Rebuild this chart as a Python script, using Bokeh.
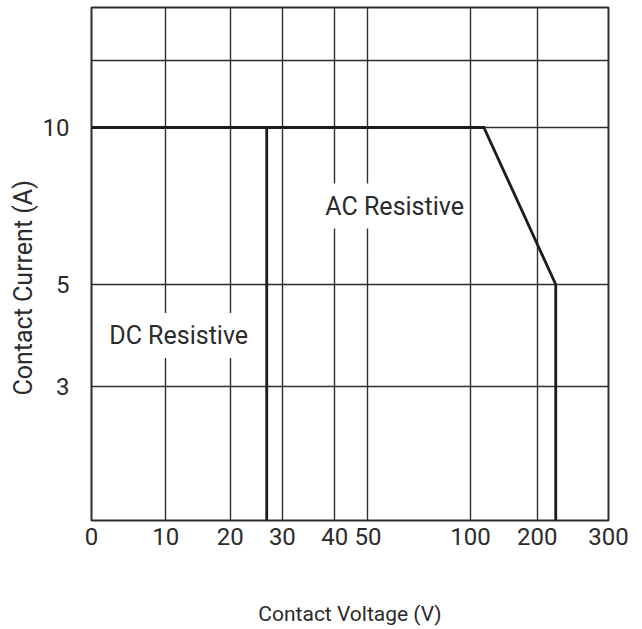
import numpy as np
from bokeh.plotting import figure
from bokeh.models import FixedTicker, Label, Range1d, Title
from bokeh.embed import file_html
from bokeh.resources import INLINE

# ---------------- data ----------------
x_tick_values = [0, 10, 20, 30, 40, 50, 100, 200, 300]
x_tick_labels = ["0", "10", "20", "30", "40", "50", "100", "200", "300"]
y_tick_values = [3, 5, 10]
y_tick_labels = ["3", "5", "10"]
y_unlabeled_grid = [15]
y_floor = 2
y_ceiling = 20

dc_voltage = [0, 27, 27]
dc_current = [10, 10, y_floor]
ac_voltage = [0, 120, 226, 226]
ac_current = [10, 10, 5, y_floor]

dc_label_at = (12, 4)
ac_label_at = (63, 7.5)

# ------------- axis warp (non-uniform scale of the original chart) -------------
x_warp_values = [0, 10, 20, 30, 40, 50, 100, 200, 300]
x_warp_frac = [0.0, 0.1437, 0.2683, 0.3692, 0.4706, 0.5348, 0.7331, 0.8621, 1.0]
y_warp_values = [2, 3, 5, 10, 15, 20]
y_warp_frac = [0.0, 0.2612, 0.4600, 0.7661, 0.8961, 1.0]


def wx(v):
    return np.round(np.interp(np.asarray(v, dtype=float), x_warp_values, x_warp_frac), 6)


def wy(v):
    return np.round(np.interp(np.asarray(v, dtype=float), y_warp_values, y_warp_frac), 6)


FONT = "Roboto"
TEXT_COLOR = "#2b2b2b"
GRID_COLOR = "#2e2e2e"
LINE_COLOR = "#1c1c1c"

p = figure(
    width=636, height=628,
    output_backend="svg", toolbar_location=None,
    x_range=Range1d(float(wx(0)), float(wx(300))),
    y_range=Range1d(float(wy(y_floor)), float(wy(y_ceiling))),
    min_border_left=91, min_border_right=28, min_border_top=7, min_border_bottom=108,
)
p.background_fill_color = "white"
p.border_fill_color = "white"
p.outline_line_color = GRID_COLOR
p.outline_line_width = 2

xt = [float(t) for t in wx(x_tick_values)]
yt = [float(t) for t in wy(y_tick_values)]
ygrid_ticks = [float(t) for t in wy(y_tick_values + y_unlabeled_grid)]

p.xaxis.ticker = FixedTicker(ticks=xt)
p.xaxis.major_label_overrides = {t: lab for t, lab in zip(xt, x_tick_labels)}
p.yaxis.ticker = FixedTicker(ticks=yt)
p.yaxis.major_label_overrides = {t: lab for t, lab in zip(yt, y_tick_labels)}

p.xgrid.ticker = FixedTicker(ticks=xt)
p.ygrid.ticker = FixedTicker(ticks=ygrid_ticks)
for g in (p.xgrid, p.ygrid):
    g.grid_line_color = GRID_COLOR
    g.grid_line_width = 1.4

for ax in (p.xaxis, p.yaxis):
    ax.axis_line_color = None
    ax.major_tick_line_color = None
    ax.minor_tick_line_color = None
    ax.major_tick_out = 0
    ax.major_tick_in = 0
    ax.major_label_text_font = FONT
    ax.major_label_text_font_size = "24px"
    ax.major_label_text_color = TEXT_COLOR
    ax.axis_label_text_font = FONT
    ax.axis_label_text_font_size = "21px"
    ax.axis_label_text_color = TEXT_COLOR
    ax.axis_label_text_font_style = "normal"

p.xaxis.axis_label = "Contact Voltage (V)"
p.xaxis.major_label_standoff = 7
p.xaxis.axis_label_standoff = 54
p.yaxis.major_label_standoff = 22

# y-axis title (sits slightly below the frame centre, as in the original)
p.add_layout(Title(
    text="Contact Current (A)", align="left", offset=125, standoff=4,
    text_font=FONT, text_font_size="25px", text_color=TEXT_COLOR,
    text_font_style="normal",
), "left")

p.line(wx(dc_voltage), wy(dc_current), line_width=2.8, line_color=LINE_COLOR, line_join="miter")
p.line(wx(ac_voltage), wy(ac_current), line_width=2.8, line_color=LINE_COLOR, line_join="miter")

for txt, (vx, vy) in (("AC Resistive", ac_label_at), ("DC Resistive", dc_label_at)):
    p.add_layout(Label(
        x=float(wx(vx)), y=float(wy(vy)), text=txt,
        text_align="center", text_baseline="middle",
        text_font=FONT, text_font_size="25px", text_color=TEXT_COLOR,
        background_fill_color="white", padding=dict(x=5, y=8),
    ))

open("out.html", "w").write(file_html(p, INLINE))
